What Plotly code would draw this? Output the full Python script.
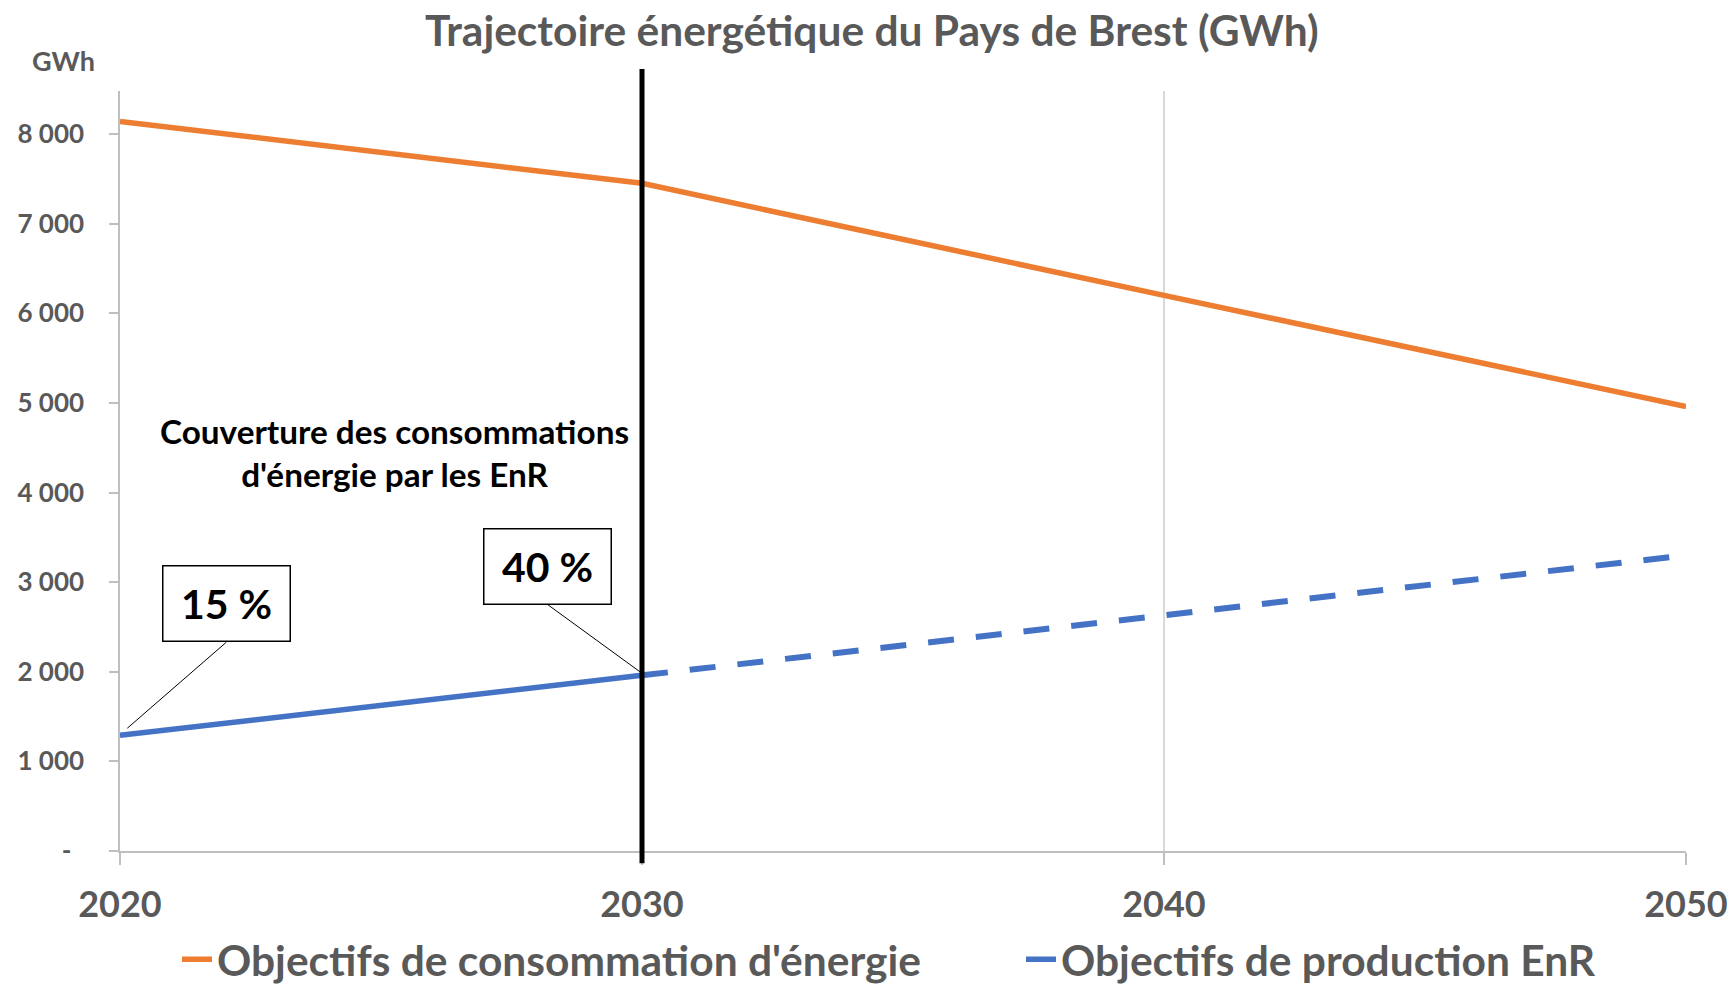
import plotly.graph_objects as go

# ---- data ----
years_conso = [2020, 2029, 2030, 2040, 2050]
conso_gwh = [8140, 7528, 7450, 6200, 4960]
years_enr = [2020, 2030, 2040, 2050]
enr_gwh = [1290, 1960, 2630, 3300]
y_tickvals = [0, 1000, 2000, 3000, 4000, 5000, 6000, 7000, 8000]
y_ticktext = ["-\u00a0\u00a0", "1 000", "2 000", "3 000", "4 000", "5 000", "6 000", "7 000", "8 000"]
x_tickvals = [2020, 2030, 2040, 2050]
coverage_labels = ["15 %", "40 %"]
coverage_years = [2020, 2030]

FONT = "Lato"
GRAY = "#595959"
ORANGE = "#ED7D31"
BLUE = "#4472C4"

fig = go.Figure()
fig.add_trace(go.Scatter(x=years_conso, y=conso_gwh, mode="lines",
                         name="Objectifs de consommation d'énergie", legend="legend",
                         line=dict(color=ORANGE, width=5.5)))
fig.add_trace(go.Scatter(x=years_enr[:2], y=enr_gwh[:2], mode="lines",
                         name="Objectifs de production EnR", legend="legend2",
                         line=dict(color=BLUE, width=5.5)))
fig.add_trace(go.Scatter(x=years_enr[1:], y=enr_gwh[1:], mode="lines",
                         showlegend=False,
                         line=dict(color=BLUE, width=6, dash="26px,22px")))

# vertical marker at 2030
fig.add_shape(type="line", xref="x", yref="paper", x0=2030, x1=2030,
              y0=-0.016, y1=1.029, line=dict(color="black", width=5), layer="above")

fig.add_annotation(text="<b>Couverture des consommations<br>d'énergie par les EnR</b>",
                   xref="x", yref="y", x=2025.25, y=4450, showarrow=False,
                   font=dict(family=FONT, size=33.3, color="black"))

offsets = [(99, -86), (-92, -67)]
tip_y = [1370, 2000]
for lab, yr, ty, (ax, ay) in zip(coverage_labels, coverage_years, tip_y, offsets):
    fig.add_annotation(text="<b>" + lab + "</b>", xref="x", yref="y",
                       x=yr + (0.14 if yr == 2020 else -0.04), y=ty,
                       ax=ax, ay=ay, showarrow=True, arrowhead=0, arrowwidth=1,
                       arrowcolor="black", yanchor="bottom", xanchor="center",
                       bordercolor="black", borderwidth=1.5, bgcolor="white",
                       width=122, height=70, borderpad=2,
                       font=dict(family=FONT, size=41, color="black"))

fig.add_annotation(text="<b>GWh</b>", xref="paper", yref="paper",
                   x=(63 - 120) / 1566, y=(851 - 60) / 760, showarrow=False,
                   xanchor="center", yanchor="middle",
                   font=dict(family=FONT, size=27, color=GRAY))

legend_font = dict(family=FONT, size=42.5, color=GRAY, weight="bold")
fig.update_layout(
    width=1735, height=986, autosize=False,
    margin=dict(l=120, r=49, t=91, b=135, autoexpand=False),
    paper_bgcolor="white", plot_bgcolor="white",
    title=dict(text="<b>Trajectoire énergétique du Pays de Brest (GWh)</b>",
               x=0.5025, y=1 - 31 / 986, xref="container", yref="container",
               xanchor="center", yanchor="middle",
               font=dict(family=FONT, size=42.5, color=GRAY)),
    legend=dict(orientation="h", x=(177 - 120) / 1566, y=-0.143, xanchor="left",
                yanchor="middle", font=legend_font),
    legend2=dict(orientation="h", x=(1021 - 120) / 1566, y=-0.143, xanchor="left",
                 yanchor="middle", font=legend_font),
    xaxis=dict(range=[2020, 2050], tickvals=x_tickvals, showgrid=True, automargin=False,
               gridcolor="#D9D9D9", gridwidth=1.5, showline=True, linecolor="#BFBFBF",
               linewidth=1.5, ticks="outside", ticklen=12, tickcolor="#BFBFBF",
               tickwidth=1.5, zeroline=False, ticklabelstandoff=9,
               tickfont=dict(family=FONT, size=36, color=GRAY, weight="bold")),
    yaxis=dict(range=[0, 8480], tickvals=y_tickvals, ticktext=y_ticktext, automargin=False,
               showgrid=False, showline=True, linecolor="#BFBFBF", linewidth=1.5,
               ticks="outside", ticklen=9, tickcolor="#BFBFBF", tickwidth=1.5,
               zeroline=False, ticklabelstandoff=20,
               tickfont=dict(family=FONT, size=26, color=GRAY, weight="bold")),
)

fig.write_html("out.html", config={"displayModeBar": False},
               post_script="document.body.style.margin='0';document.body.style.overflow='hidden';")
